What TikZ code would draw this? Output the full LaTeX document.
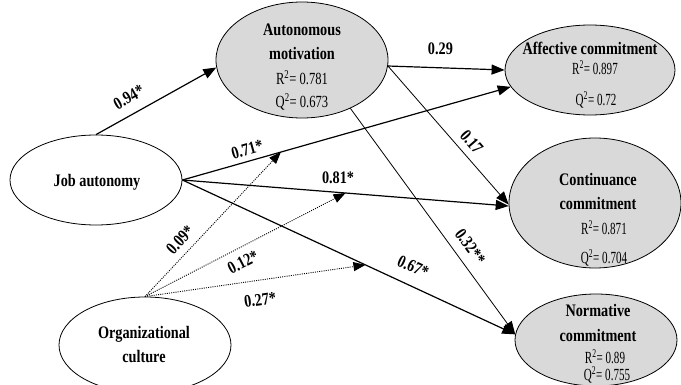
\documentclass[tikz,border=0pt]{standalone}
\usepackage{fontspec}
\setmainfont{Liberation Serif}[FakeStretch=0.81]
\newfontfamily\regA{Liberation Serif}[FakeStretch=0.74]
\newfontfamily\regB{Liberation Serif}[FakeStretch=0.65]
\usetikzlibrary{shapes.geometric,arrows.meta}
\definecolor{fillgray}{RGB}{217,217,217}
\tikzset{
  lat/.style={ellipse, draw, line width=0.8pt, inner sep=0pt},
  endo/.style={lat, fill=fillgray},
  ttl/.style={font=\fontsize{17.6}{20}\selectfont\bfseries, inner sep=0pt},
  statA/.style={font=\fontsize{17}{20}\selectfont\regA, inner sep=0pt},
  statB/.style={font=\fontsize{17}{20}\selectfont\regB, inner sep=0pt},
  pth/.style={line width=1.2pt, -{Triangle[length=13pt,width=10pt]}},
  pthin/.style={line width=0.8pt, -{Triangle[length=13pt,width=10pt]}},
  pdot/.style={line width=0.9pt, dash pattern=on 1pt off 1.2pt, -{Triangle[length=12pt,width=9pt]}},
  lbl/.style={font=\fontsize{17.6}{20}\selectfont\bfseries, inner sep=0pt},
}
\begin{document}
\begin{tikzpicture}[x=1pt,y=-1pt]
\clip (0,0) rectangle (681,385);
\fill[white] (0,0) rectangle (681,385);
% latent variables
\node[endo, minimum width=172pt, minimum height=116pt] (am) at (302,60) {};
\node[endo, minimum width=170pt, minimum height=90pt] (ac) at (590,70) {};
\node[endo, minimum width=172pt, minimum height=130pt] (cc) at (595,203) {};
\node[endo, minimum width=162pt, minimum height=92pt] (nc) at (596,340) {};
\node[lat, minimum width=172pt, minimum height=90pt] (ja) at (96,180) {};
\node[lat, minimum width=172pt, minimum height=96pt] (oc) at (145,345) {};
% texts
\node[ttl] (amt1) at (302,30) {Autonomous};
\node[ttl] (amt2) at (302,53) {motivation};
\node[statA] (amt3) at (302,78) {R\textsuperscript{2}= 0.781};
\node[statA] (amt4) at (302,102) {Q\textsuperscript{2}= 0.673};
\node[ttl] (act1) at (590,48) {Affective commitment};
\node[statB] (act2) at (595,68) {R\textsuperscript{2}= 0.897};
\node[statB] (act3) at (596,100) {Q\textsuperscript{2}= 0.72};
\node[ttl] (cct1) at (598,180) {Continuance};
\node[ttl] (cct2) at (598,203) {commitment};
\node[statB] (cct3) at (604,228) {R\textsuperscript{2}= 0.871};
\node[statB] (cct4) at (604,258) {Q\textsuperscript{2}= 0.704};
\node[ttl] (nct1) at (598,310) {Normative};
\node[ttl] (nct2) at (598,335) {commitment};
\node[statB] (nct3) at (605,357) {R\textsuperscript{2}= 0.89};
\node[statB] (nct4) at (607,375) {Q\textsuperscript{2}= 0.755};
\node[ttl] (jat) at (97,182) {Job autonomy};
\node[ttl] (oct1) at (144,334) {Organizational};
\node[ttl] (oct2) at (144,357) {culture};
% structural paths
\draw[pth] (ja.north) -- (am.185) node[lbl, sloped, pos=0.34, above=10pt] (l1) {0.94*};
\draw[pth] (am.-4) -- (ac.west) node[lbl, pos=0.45, above=12pt] (l2) {0.29};
\draw[pthin] (am.-4) -- (cc.181) node[lbl, sloped, pos=0.61, above=7pt] (l3) {0.17};
\draw[pthin] (am.-45) -- (nc.176) node[lbl, sloped, pos=0.652, above=9pt] (l4) {0.32**};
\draw[pth] (ja.east) -- (ac.192) coordinate[pos=0.3] (m1) node[lbl, sloped, pos=0.207, above=5pt] (l5) {0.71*};
\draw[pth] (ja.east) -- (cc.182) coordinate[pos=0.5] (m2) node[lbl, pos=0.477, above=8pt] (l6) {0.81*};
\draw[pth] (ja.east) -- (nc.176) coordinate[pos=0.55] (m3) node[lbl, sloped, pos=0.67, above=12pt] (l7) {0.67*};
% moderating paths
\draw[pdot] (oc.north) -- (m1) node[lbl, sloped, pos=0.33, above=7pt] (l8) {0.09*};
\draw[pdot] (oc.north) -- (m2) node[lbl, sloped, pos=0.456, below=8pt] (l9) {0.12*};
\draw[pdot] (oc.north) -- (m3) node[lbl, sloped, pos=0.51, below=13pt] (l10) {0.27*};
\end{tikzpicture}
\end{document}
